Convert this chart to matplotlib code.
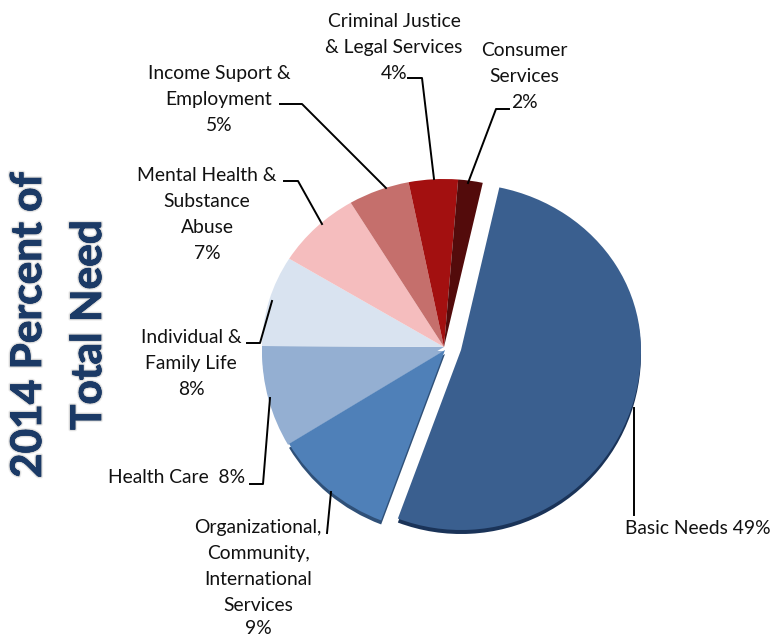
import matplotlib
matplotlib.use('Agg')
import matplotlib.pyplot as plt
import matplotlib.patheffects as pe
from matplotlib.lines import Line2D

categories = ['Basic Needs', 'Organizational, Community, International Services', 'Health Care',
              'Individual & Family Life', 'Mental Health & Substance Abuse',
              'Income Suport & Employment', 'Criminal Justice & Legal Services', 'Consumer Services']
# slice sizes, the printed labels are rounded
values = [48, 9.8, 8, 8, 7, 5, 4, 2]
colors = ['#3A5F8F', '#4F80B8', '#94AFD2', '#D9E3F0', '#F5BDBE', '#C56F6C', '#A31010', '#530B0B']
side_colors = ['#1A3358', '#2F5078', '#94AFD2', '#D9E3F0', '#F5BDBE', '#C56F6C', '#A31010', '#530B0B']

W, H = 772, 636
CX, CY = 444, 347
RADIUS = 182
TOP_SQUASH = 168 / RADIUS  # the tilted pie is flatter above the centre


def fwd(y):
    return y * TOP_SQUASH * (y > 0) + y * (y <= 0)


def inv(y):
    return y / TOP_SQUASH * (y > 0) + y * (y <= 0)


def fx(x):
    return x / W


def fy(y):
    return 1 - y / H


fig = plt.figure(figsize=(W / 100, H / 100), dpi=100)
plt.rcParams['font.family'] = ['Lato', 'DejaVu Sans']

ax = fig.add_axes([0, 0, 1, 1])

# side of the pie first, a little lower
side, _ = ax.pie(values, colors=side_colors, startangle=77.7, counterclock=False, radius=RADIUS,
                 center=(0, -4), normalize=True, frame=True)
top, _ = ax.pie(values, colors=colors, startangle=77.7, counterclock=False, radius=RADIUS,
                center=(0, 0), normalize=True, frame=True)
# Basic Needs and the next slice are pulled away from the rest
for w, dx, dy in [(top[0], 17, -3), (side[0], 17, -7), (top[1], 1, -3), (side[1], 1, -7)]:
    w.set_center((dx, dy))
top[0].set_radius(180)
side[0].set_radius(180)
for w in side[3:]:
    w.set_visible(False)

ax.set_aspect('auto')
ax.set_yscale('function', functions=(fwd, inv))
ax.set_xlim(-CX, W - CX)
ax.set_ylim(CY - H, CY / TOP_SQUASH)
ax.set_xticks([])
ax.set_yticks([])
ax.minorticks_off()
ax.axis('off')

# label text, one entry per line: (x centre, baseline y, text)
label_lines = [
    (394, 27, 'Criminal Justice'), (394, 53, '& Legal Services'), (394, 79, '4%'),
    (524, 56, 'Consumer'), (524, 82, 'Services'), (524, 108, '2%'),
    (219, 79, 'Income Suport &'), (219, 105, 'Employment'), (219, 131, '5%'),
    (207, 181, 'Mental Health &'), (207, 207, 'Substance'), (207, 233, 'Abuse'), (207, 259, '7%'),
    (191, 343, 'Individual &'), (191, 369, 'Family Life'), (191, 395, '8%'),
    (177, 483, 'Health Care  8%'),
    (258, 533, 'Organizational,'), (258, 559, 'Community,'), (258, 585, 'International'),
    (258, 611, 'Services'), (258, 634, '9%'),
    (698, 534, 'Basic Needs 49%'),
]
for x, y, s in label_lines:
    fig.text(fx(x), fy(y), s, ha='center', va='baseline', fontsize=13.9, color='#111111')

leaders = [
    [(408, 78), (422, 78), (434, 179)],
    [(509, 109), (496, 109), (468, 183)],
    [(280, 104), (302, 104), (386, 188)],
    [(284, 181), (298, 181), (322, 224)],
    [(247, 343), (260, 343), (272, 301)],
    [(250, 484), (263, 484), (270, 398)],
    [(327, 533), (331, 492)],
    [(634, 408), (634, 515)],
]
for pts in leaders:
    fig.add_artist(Line2D([fx(p[0]) for p in pts], [fy(p[1]) for p in pts], color='black', lw=1.4))

# soft glow for the title, then the letters a bit heavier
glow = [pe.withStroke(linewidth=3, foreground='#888888', alpha=0.15),
        pe.withStroke(linewidth=1.6, foreground='#777777', alpha=0.25),
        pe.withStroke(linewidth=0.5, foreground='#1B3A66')]
for x, s in [(29, '2014 Percent of'), (89, 'Total Need')]:
    fig.text(fx(x), fy(325), s, rotation=90, ha='center', va='center', fontsize=30.5, fontweight='bold',
             color='#1B3A66', path_effects=glow)

fig.savefig('out.png', dpi=100)
